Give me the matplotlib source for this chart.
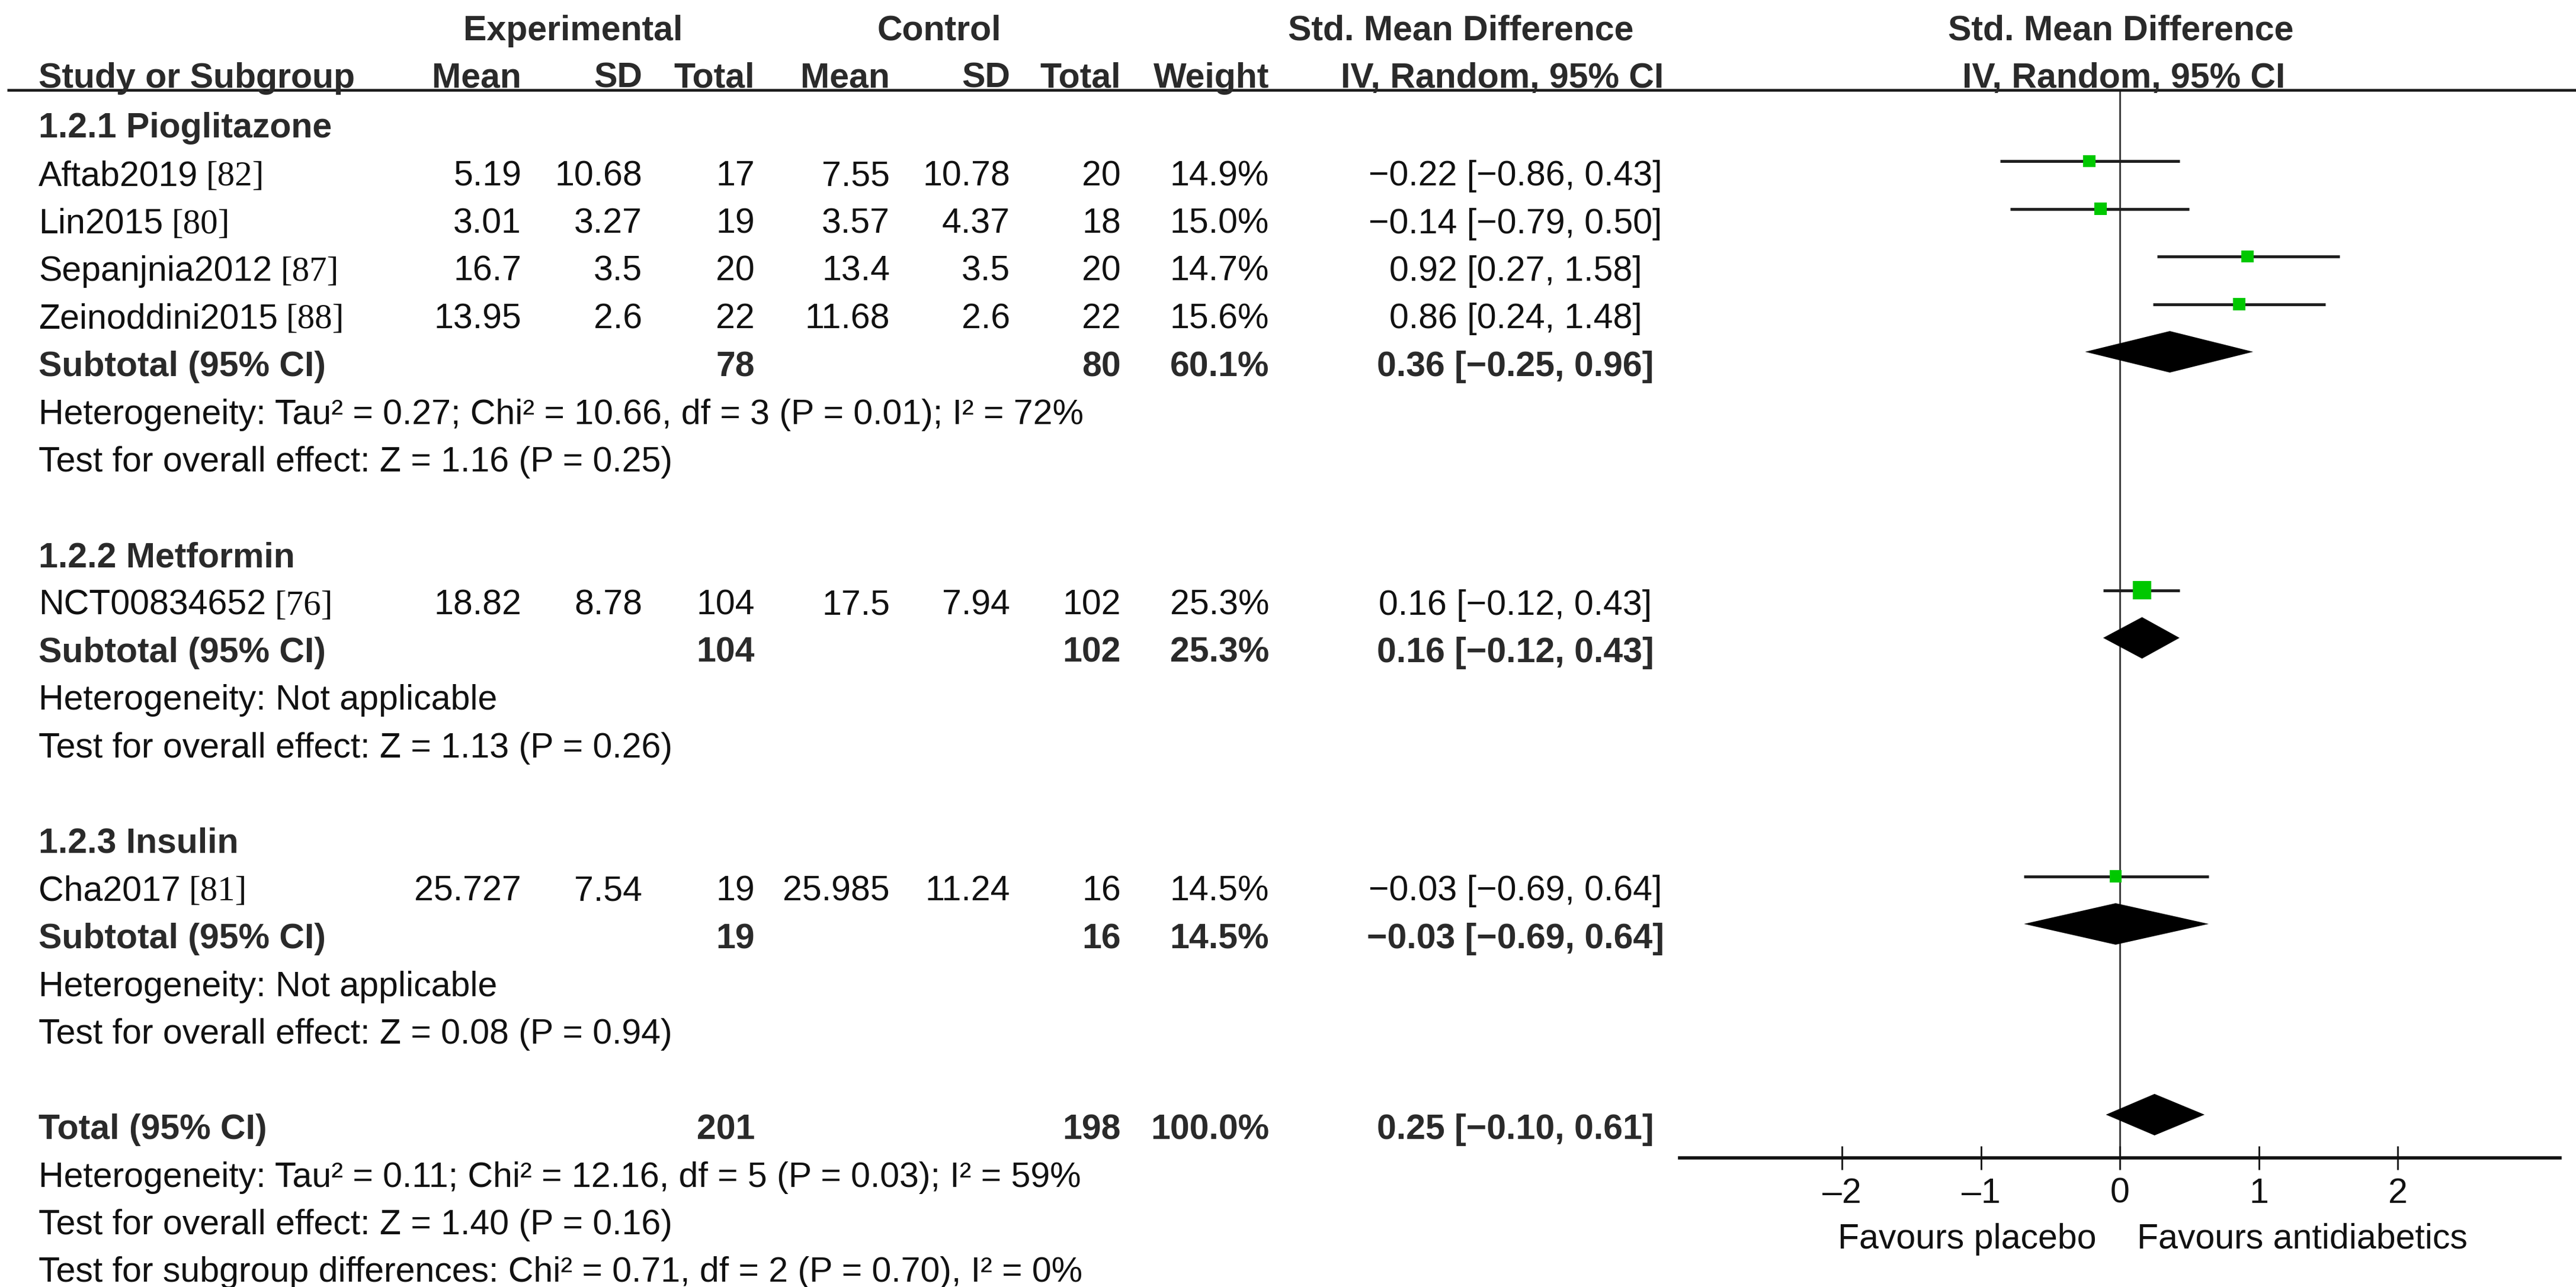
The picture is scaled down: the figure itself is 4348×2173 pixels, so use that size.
import matplotlib
matplotlib.use('Agg')
import matplotlib.pyplot as plt

plt.rcParams['font.family'] = ['Liberation Sans', 'DejaVu Sans']

# ---- data ----
groups = ['1.2.1 Pioglitazone', '1.2.2 Metformin', '1.2.3 Insulin']
study_group = [0, 0, 0, 0, 1, 2]
studies = ['Aftab2019', 'Lin2015', 'Sepanjnia2012', 'Zeinoddini2015', 'NCT00834652', 'Cha2017']
refs = ['[82]', '[80]', '[87]', '[88]', '[76]', '[81]']
exp_mean = ['5.19', '3.01', '16.7', '13.95', '18.82', '25.727']
exp_sd = ['10.68', '3.27', '3.5', '2.6', '8.78', '7.54']
exp_n = [17, 19, 20, 22, 104, 19]
ctl_mean = ['7.55', '3.57', '13.4', '11.68', '17.5', '25.985']
ctl_sd = ['10.78', '4.37', '3.5', '2.6', '7.94', '11.24']
ctl_n = [20, 18, 20, 22, 102, 16]
weight = [14.9, 15.0, 14.7, 15.6, 25.3, 14.5]
smd = [-0.22, -0.14, 0.92, 0.86, 0.16, -0.03]
ci_lo = [-0.86, -0.79, 0.27, 0.24, -0.12, -0.69]
ci_hi = [0.43, 0.50, 1.58, 1.48, 0.43, 0.64]

sub_exp_n = [78, 104, 19]
sub_ctl_n = [80, 102, 16]
sub_weight = [60.1, 25.3, 14.5]
sub_smd = [0.36, 0.16, -0.03]
sub_lo = [-0.25, -0.12, -0.69]
sub_hi = [0.96, 0.43, 0.64]
sub_het = ['Heterogeneity: Tau\u00b2 = 0.27; Chi\u00b2 = 10.66, df = 3 (P = 0.01); I\u00b2 = 72%',
           'Heterogeneity: Not applicable',
           'Heterogeneity: Not applicable']
sub_z = ['Test for overall effect: Z = 1.16 (P = 0.25)',
         'Test for overall effect: Z = 1.13 (P = 0.26)',
         'Test for overall effect: Z = 0.08 (P = 0.94)']

tot_exp_n = 201
tot_ctl_n = 198
tot_weight = 100.0
tot_smd = 0.25
tot_lo = -0.10
tot_hi = 0.61
tot_notes = ['Heterogeneity: Tau\u00b2 = 0.11; Chi\u00b2 = 12.16, df = 5 (P = 0.03); I\u00b2 = 59%',
             'Test for overall effect: Z = 1.40 (P = 0.16)',
             'Test for subgroup differences: Chi\u00b2 = 0.71, df = 2 (P = 0.70), I\u00b2 = 0%']

xticks = [-2, -1, 0, 1, 2]
fav_left = 'Favours placebo'
fav_right = 'Favours antidiabetics'

# ---- layout (pixels) ----
W, H = 4348, 2173
FS = 42.5
REG = '#111111'
BLD = '#2a2a2a'
col_x = {'em': 880, 'es': 1084, 'en': 1274, 'cm': 1502, 'cs': 1705, 'cn': 1892, 'w': 2142}
ci_x = 2558
row0, step = 232.5, 80.5


def base(i):
    return row0 + step * i


def fmt(v):
    return f'{v:.2f}'.replace('-', '\u2212')


def ci_text(m, lo, hi):
    return f'{fmt(m)} [{fmt(lo)}, {fmt(hi)}]'


fig = plt.figure(figsize=(W / 100, H / 100), dpi=100)
ax = fig.add_axes([0, 0, 1, 1])
ax.set_xlim(0, W)
ax.set_ylim(H, 0)
ax.axis('off')


def txt(x, y, s, ha='left', bold=False, **kw):
    return ax.text(x, y, s, ha=ha, va='baseline', fontsize=FS,
                   fontweight='bold' if bold else 'normal',
                   color=BLD if bold else REG, **kw)


# header
txt(967, 68, 'Experimental', 'center', True)
txt(1585, 68, 'Control', 'center', True)
txt(2466, 68, 'Std. Mean Difference', 'center', True)
txt(3580, 68, 'Std. Mean Difference', 'center', True)
txt(65, 148, 'Study or Subgroup', bold=True)
for key, lab in zip(['em', 'es', 'en', 'cm', 'cs', 'cn', 'w'],
                    ['Mean', 'SD', 'Total', 'Mean', 'SD', 'Total', 'Weight']):
    txt(col_x[key], 148, lab, 'right', True)
txt(2808, 148, 'IV, Random, 95% CI', 'right', True)
txt(3585, 148, 'IV, Random, 95% CI', 'center', True)
ax.plot([12, W], [152, 152], color='#1a1a1a', lw=3.3, solid_capstyle='butt')

# table body + remember rows for the forest part
study_rows = []
sub_rows = []
i = 0
for g, gname in enumerate(groups):
    txt(65, base(i), gname, bold=True)
    i += 1
    for k in range(len(studies)):
        if study_group[k] != g:
            continue
        y = base(i)
        t = txt(65, y, studies[k])
        ax.annotate(refs[k], xy=(1.0, y), xycoords=(t, ax.transData),
                    xytext=(14, 0), textcoords='offset pixels',
                    ha='left', va='baseline', fontsize=FS, color=REG,
                    family=['Liberation Serif', 'DejaVu Serif'])
        txt(col_x['em'], y, exp_mean[k], 'right')
        txt(col_x['es'], y, exp_sd[k], 'right')
        txt(col_x['en'], y, str(exp_n[k]), 'right')
        txt(col_x['cm'], y, ctl_mean[k], 'right')
        txt(col_x['cs'], y, ctl_sd[k], 'right')
        txt(col_x['cn'], y, str(ctl_n[k]), 'right')
        txt(col_x['w'], y, f'{weight[k]:.1f}%', 'right')
        txt(ci_x, y, ci_text(smd[k], ci_lo[k], ci_hi[k]), 'center')
        study_rows.append(i)
        i += 1
    y = base(i)
    txt(65, y, 'Subtotal (95% CI)', bold=True)
    txt(col_x['en'], y, str(sub_exp_n[g]), 'right', True)
    txt(col_x['cn'], y, str(sub_ctl_n[g]), 'right', True)
    txt(col_x['w'], y, f'{sub_weight[g]:.1f}%', 'right', True)
    txt(ci_x, y, ci_text(sub_smd[g], sub_lo[g], sub_hi[g]), 'center', True)
    sub_rows.append(i)
    i += 1
    txt(65, base(i), sub_het[g])
    i += 1
    txt(65, base(i), sub_z[g])
    i += 2

y = base(i)
txt(65, y, 'Total (95% CI)', bold=True)
txt(col_x['en'], y, str(tot_exp_n), 'right', True)
txt(col_x['cn'], y, str(tot_ctl_n), 'right', True)
txt(col_x['w'], y, f'{tot_weight:.1f}%', 'right', True)
txt(ci_x, y, ci_text(tot_smd, tot_lo, tot_hi), 'center', True)
tot_row = i
for n, note in enumerate(tot_notes):
    txt(65, base(i + 1 + n), note)

# ---- forest panel ----
x0_px, unit = 3578, 234.5
xmin, xmax = -3.17, 3.17
top_px, axis_px = 152, 1955
mark0 = row0 - 41
ytop = (top_px - mark0) / step
ybot = (axis_px - mark0) / step
fa = fig.add_axes([(x0_px + xmin * unit) / W, (H - axis_px) / H,
                   (xmax - xmin) * unit / W, (axis_px - top_px) / H])
fa.patch.set_alpha(0)
fa.set_xlim(xmin, xmax)
fa.set_ylim(ybot, ytop)
for s in ['top', 'left', 'right']:
    fa.spines[s].set_visible(False)
fa.spines['bottom'].set_linewidth(4)
fa.spines['bottom'].set_color('#111111')
fa.set_yticks([])
fa.set_xticks(xticks)
fa.set_xticklabels([str(v).replace('-', '\u2013') for v in xticks])
fa.tick_params(axis='x', direction='inout', length=29, width=2, pad=9,
               labelsize=FS, colors='#111111')
fa.axvline(0, color='#1a1a1a', lw=1.8, zorder=1)

fa.hlines(study_rows, ci_lo, ci_hi, color='#1e1e1e', lw=3.5, zorder=2)
sizes = [((w + 6) * 0.72) ** 2 for w in weight]
fa.scatter(smd, study_rows, s=sizes, marker='s', color='#00c800',
           edgecolors='none', zorder=3)
hh = 0.435
for r, m, lo, hi in zip(sub_rows + [tot_row], sub_smd + [tot_smd],
                        sub_lo + [tot_lo], sub_hi + [tot_hi]):
    fa.fill([lo, m, hi, m], [r, r - hh, r, r + hh], color='black', lw=0, zorder=3)

txt(3538, 2108, fav_left, 'right')
txt(3607, 2108, fav_right, 'left')

fig.savefig('out.png', dpi=100)
